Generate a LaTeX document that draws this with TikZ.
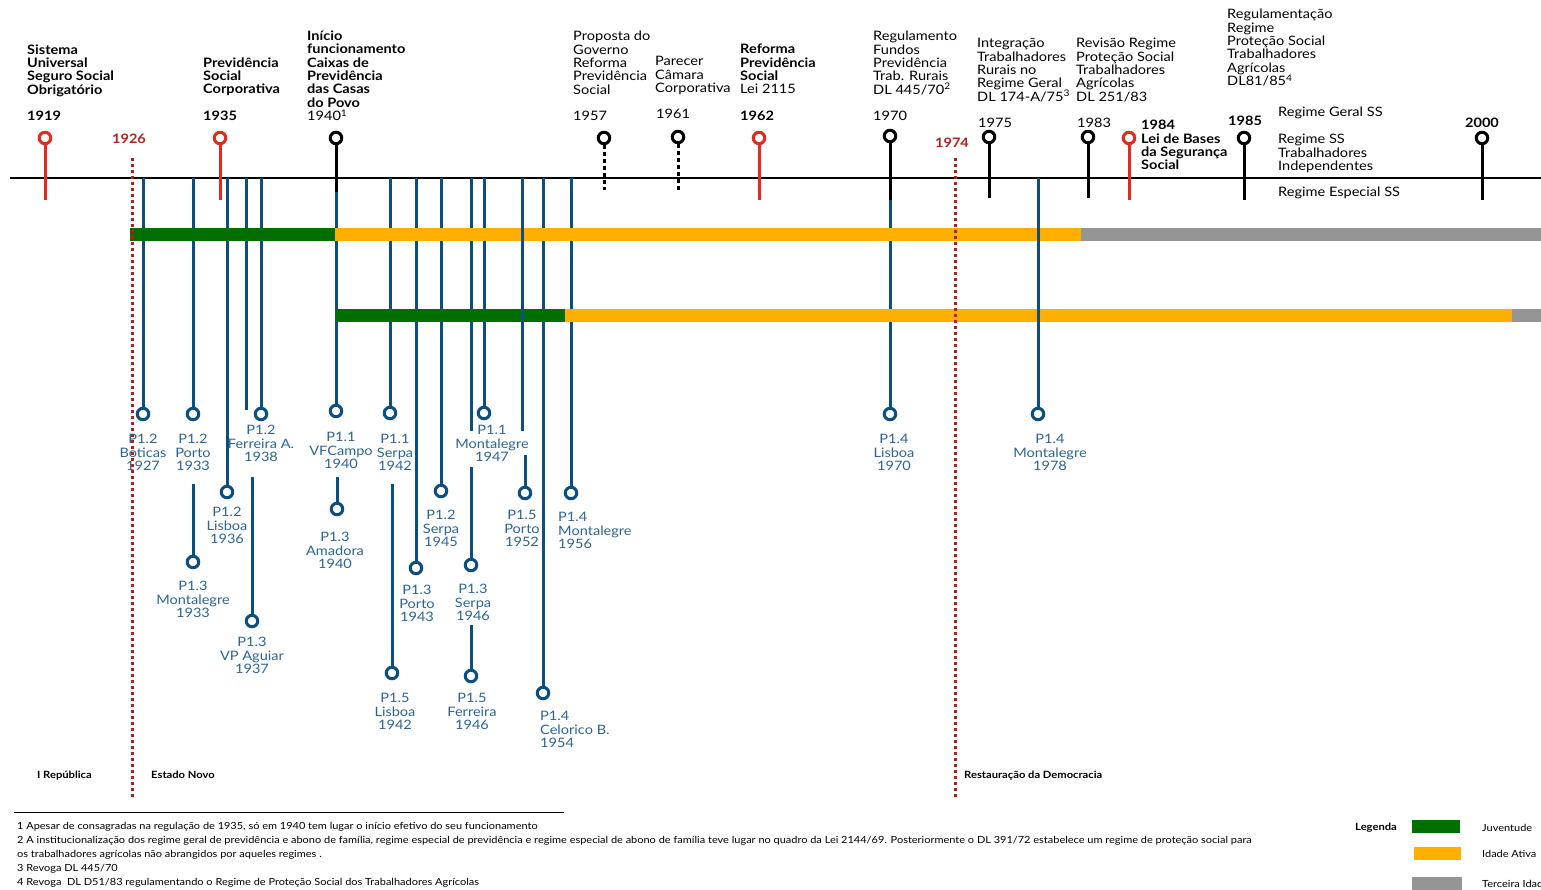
\documentclass[tikz,border=0pt]{standalone}
\usepackage{fontspec}
\setmainfont{Lato}[FakeStretch=1.12]
\definecolor{pinred}{HTML}{E8281E}
\definecolor{darkred}{HTML}{B3201A}
\definecolor{tblue}{HTML}{0B4F82}
\definecolor{lblue}{HTML}{2C6494}
\definecolor{jgreen}{HTML}{006F00}
\definecolor{aorange}{HTML}{FFAF00}
\definecolor{tgray}{HTML}{959595}
\newcommand\tblock[4][]{\foreach \t [count=\i from 0] in {#4}{\node[#1] at (#2,{#3+13.3*\i}) {\t};}}
\begin{document}
\begin{tikzpicture}[x=1pt,y=-1pt,
  lbl/.style={inner sep=0,anchor=base west,font=\fontsize{13}{13}\selectfont},
  blbl/.style={inner sep=0,anchor=base west,font=\fontsize{13}{13}\selectfont\bfseries},
  ryear/.style={inner sep=0,anchor=base,font=\fontsize{13}{13}\selectfont\bfseries,text=darkred},
  bl/.style={inner sep=0,anchor=base,font=\fontsize{13}{13}\selectfont,text=lblue},
  blw/.style={inner sep=0,anchor=base west,font=\fontsize{13}{13}\selectfont,text=lblue},
  pinc/.style={circle,draw=#1,fill=white,line width=3pt,minimum size=11.5pt,inner sep=0},
  stemline/.style={draw=#1,line width=3pt},
  dotstem/.style={draw=black,line width=3pt,dash pattern=on 4pt off 3pt},
  reddot/.style={draw=darkred,line width=3pt,dash pattern=on 3pt off 3pt},
  bline/.style={draw=tblue,line width=3pt},
  bar/.style={fill=#1,draw=none},
  era/.style={inner sep=0,anchor=base west,font=\fontsize{10}{12}\selectfont\bfseries},
  foot/.style={inner sep=0,anchor=base west,font=\fontsize{9.8}{12}\selectfont},
]
\useasboundingbox (0,0) rectangle (1541,890);

% main timeline
\coordinate (tlA) at (10,178);
\coordinate (tlB) at (1541,178);
\draw[line width=1.5pt] (tlA) -- (tlB);

% ---------- blue pins (lower ends) ----------
\node[pinc=tblue] (b1) at (143,414) {};
\node[pinc=tblue] (b2) at (193,414) {};
\node[pinc=tblue] (b3) at (193,562) {};
\node[pinc=tblue] (b4) at (227,492) {};
\node[pinc=tblue] (b5) at (252,621) {};
\node[pinc=tblue] (b6) at (261,414) {};
\node[pinc=tblue] (b7) at (336,411) {};
\node[pinc=tblue] (b8) at (337,509) {};
\node[pinc=tblue] (b9) at (390,413) {};
\node[pinc=tblue] (b10) at (392,673) {};
\node[pinc=tblue] (b11) at (416,568) {};
\node[pinc=tblue] (b12) at (441,491) {};
\node[pinc=tblue] (b13) at (471,565) {};
\node[pinc=tblue] (b14) at (471,676) {};
\node[pinc=tblue] (b15) at (484,413) {};
\node[pinc=tblue] (b16) at (525,493) {};
\node[pinc=tblue] (b17) at (543,693) {};
\node[pinc=tblue] (b18) at (571,493) {};
\node[pinc=tblue] (b19) at (890,414) {};
\node[pinc=tblue] (b20) at (1038,414) {};

% upper ends
\coordinate (u1) at (143,178);
\coordinate (u2) at (193,178);
\coordinate (u3) at (193,484);
\coordinate (u4) at (227,178);
\coordinate (u5a) at (246,178);
\coordinate (e5a) at (246,410);
\coordinate (u5) at (252,477);
\coordinate (u6) at (261,178);
\coordinate (u7) at (336,190);
\coordinate (u8) at (337,477);
\coordinate (u9) at (390,178);
\coordinate (u10) at (392,484);
\coordinate (u11) at (416,178);
\coordinate (u12) at (441,178);
\coordinate (u13a) at (471,178);
\coordinate (e13a) at (471,431);
\coordinate (u13) at (471,467);
\coordinate (u14) at (471,625);
\coordinate (u15) at (484,178);
\coordinate (u16a) at (522,178);
\coordinate (e16a) at (522,431);
\coordinate (u16) at (525,455);
\coordinate (u17) at (543,178);
\coordinate (u18) at (571,178);
\coordinate (u19) at (890,200);
\coordinate (u20) at (1038,178);

\foreach \a/\b in {u1/b1,u2/b2,u3/b3,u4/b4,u5a/e5a,u5/b5,u6/b6,u7/b7,u8/b8,u9/b9,u10/b10,u11/b11,u12/b12,u13a/e13a,u13/b13,u14/b14,u15/b15,u16/b16,u17/b17,u18/b18,u19/b19}
  \draw[bline] (\a) -- (\b);

% ---------- bars ----------
\fill[bar=jgreen] (130,228) rectangle (335,241);
\fill[bar=aorange] (335,228) rectangle (1081,241);
\fill[bar=tgray] (1081,228) rectangle (1541,241);
\fill[bar=jgreen] (336,309.5) rectangle (565,322.5);
\fill[bar=aorange] (565,309.5) rectangle (1512,322.5);
\fill[bar=tgray] (1512,309.5) rectangle (1541,322.5);

% lines drawn over the bars
\draw[bline] (u16a) -- (e16a);
\draw[bline] (u20) -- (b20);

% ---------- red dotted era lines ----------
\coordinate (r1a) at (132,158);
\coordinate (r1b) at (132,797);
\coordinate (r2a) at (955,158);
\coordinate (r2b) at (955,797);
\draw[reddot] (r1a) -- (r1b);
\draw[reddot] (r2a) -- (r2b);
\node[ryear] (y1926) at (129,144) {1926};
\node[ryear] (y1974) at (952,148) {1974};

% ---------- top pins ----------
\node[pinc=pinred] (p1919) at (45,138) {};
\node[pinc=pinred] (p1935) at (220,138) {};
\node[pinc=black] (p1940) at (336,138) {};
\node[pinc=black] (p1957) at (604,138) {};
\node[pinc=black] (p1961) at (678,137) {};
\node[pinc=pinred] (p1962) at (759,138) {};
\node[pinc=black] (p1970) at (890,136) {};
\node[pinc=black] (p1975) at (989,137) {};
\node[pinc=black] (p1983) at (1088,137) {};
\node[pinc=pinred] (p1984) at (1129,138) {};
\node[pinc=black] (p1985) at (1244,138) {};
\node[pinc=black] (p2000) at (1482,138) {};

\coordinate (s1919) at (45,200);
\coordinate (s1935) at (220,200);
\coordinate (s1940) at (336,192);
\coordinate (s1957) at (604,190);
\coordinate (s1961) at (678,190);
\coordinate (s1962) at (759,200);
\coordinate (s1970) at (890,200);
\coordinate (s1975) at (989,198);
\coordinate (s1983) at (1088,198);
\coordinate (s1984) at (1129,200);
\coordinate (s1985) at (1244,200);
\coordinate (s2000) at (1482,200);

\draw[stemline=pinred] (p1919) -- (s1919);
\draw[stemline=pinred] (p1935) -- (s1935);
\draw[stemline=black] (p1940) -- (s1940);
\draw[dotstem] (p1957) -- (s1957);
\draw[dotstem] (p1961) -- (s1961);
\draw[stemline=pinred] (p1962) -- (s1962);
\draw[stemline=black] (p1970) -- (s1970);
\draw[stemline=black] (p1975) -- (s1975);
\draw[stemline=black] (p1983) -- (s1983);
\draw[stemline=pinred] (p1984) -- (s1984);
\draw[stemline=black] (p1985) -- (s1985);
\draw[stemline=black] (p2000) -- (s2000);

% ---------- top texts ----------
\tblock[blbl]{27}{54.3}{Sistema,Universal,Seguro Social,Obrigatório}
\node[blbl] at (27,121) {1919};
\tblock[blbl]{203}{67.3}{Previdência,Social,Corporativa}
\node[blbl] at (203,121) {1935};
\tblock[blbl]{307}{40.7}{Início,funcionamento,Caixas de,Previdência,das Casas,do Povo}
\node[lbl] at (307,121) {1940\textsuperscript{1}};
\tblock[lbl]{573}{41}{Proposta do,Governo,Reforma,Previdência,Social}
\node[lbl] at (573,121) {1957};
\tblock[lbl]{655}{66}{Parecer,Câmara,Corporativa}
\node[lbl] at (656,119) {1961};
\tblock[blbl]{740}{54}{Reforma,Previdência,Social}
\node[lbl] at (740,94) {Lei 2115};
\node[blbl] at (740,121) {1962};
\tblock[lbl]{873}{41}{Regulamento,Fundos,Previdência,Trab. Rurais,DL 445/70\textsuperscript{2}}
\node[lbl] at (873,121) {1970};
\tblock[lbl]{977}{48}{Integração,Trabalhadores,Rurais no,Regime Geral,DL 174-A/75\textsuperscript{3}}
\node[lbl] at (978,128) {1975};
\tblock[lbl]{1076}{48}{Revisão Regime,Proteção Social,Trabalhadores,Agrícolas,DL 251/83}
\node[lbl] at (1077,128) {1983};
\tblock[blbl]{1141}{130}{1984,Lei de Bases,da Segurança,Social}
\tblock[lbl]{1227}{19}{Regulamentação,Regime,Proteção Social,Trabalhadores,Agrícolas,DL81/85\textsuperscript{4}}
\node[blbl] at (1228,126) {1985};
\node[blbl,anchor=base] at (1482,128) {2000};
\node[lbl] at (1278,117) {Regime Geral SS};
\tblock[lbl]{1278}{144}{Regime SS,Trabalhadores,Independentes}
\node[lbl] at (1278,197) {Regime Especial SS};

% ---------- blue labels ----------
\tblock[bl]{143}{443.7}{P1.2,Boticas,1927}
\tblock[bl]{193}{443.7}{P1.2,Porto,1933}
\tblock[bl]{193}{590.7}{P1.3,Montalegre,1933}
\tblock[bl]{227}{516.7}{P1.2,Lisboa,1936}
\tblock[bl]{252}{646.7}{P1.3,VP Aguiar,1937}
\tblock[bl]{261}{434.7}{P1.2,Ferreira A.,1938}
\tblock[bl]{341}{441.7}{P1.1,VFCampo,1940}
\tblock[bl]{335}{541.7}{P1.3,Amadora,1940}
\tblock[bl]{395}{443.7}{P1.1,Serpa,1942}
\tblock[bl]{395}{702.7}{P1.5,Lisboa,1942}
\tblock[bl]{417}{594.7}{P1.3,Porto,1943}
\tblock[bl]{441}{519.7}{P1.2,Serpa,1945}
\tblock[bl]{473}{593.7}{P1.3,Serpa,1946}
\tblock[bl]{472}{702.7}{P1.5,Ferreira,1946}
\tblock[bl]{492}{434.7}{P1.1,Montalegre,1947}
\tblock[bl]{522}{519.7}{P1.5,Porto,1952}
\tblock[blw]{540}{720.7}{P1.4,Celorico B.,1954}
\tblock[blw]{558}{521.7}{P1.4,Montalegre,1956}
\tblock[bl]{894}{443.7}{P1.4,Lisboa,1970}
\tblock[bl]{1050}{443.7}{P1.4,Montalegre,1978}

% ---------- eras ----------
\node[era] at (37,778) {I República};
\node[era] at (151,778) {Estado Novo};
\node[era] at (964,778) {Restauração da Democracia};

% ---------- footnotes ----------
\coordinate (fl1) at (14,812);
\coordinate (fl2) at (564,812);
\draw[line width=1pt] (fl1) -- (fl2);
\node[foot] at (17,829.5) {1 Apesar de consagradas na regulação de 1935, só em 1940 tem lugar o início efetivo do seu funcionamento};
\node[foot] at (17,843.5) {2 A institucionalização dos regime geral de previdência e abono de família, regime especial de previdência e regime especial de abono de família teve lugar no quadro da Lei 2144/69. Posteriormente o DL 391/72 estabelece um regime de proteção social para};
\node[foot] at (17,857.5) {os trabalhadores agrícolas não abrangidos por aqueles regimes .};
\node[foot] at (17,871.5) {3 Revoga DL 445/70};
\node[foot] at (17,885.5) {4 Revoga\ \ DL D51/83 regulamentando o Regime de Proteção Social dos Trabalhadores Agrícolas};

% ---------- legend ----------
\node[era] (leg) at (1355,830) {Legenda};
\fill[bar=jgreen] (1412,820) rectangle (1460,833);
\fill[bar=aorange] (1414,847) rectangle (1461,860);
\fill[bar=tgray] (1412,877) rectangle (1462,890);
\node[foot] at (1482,831) {Juventude};
\node[foot] at (1482,857) {Idade Ativa};
\node[foot] at (1482,887) {Terceira Idade};
\end{tikzpicture}
\end{document}
